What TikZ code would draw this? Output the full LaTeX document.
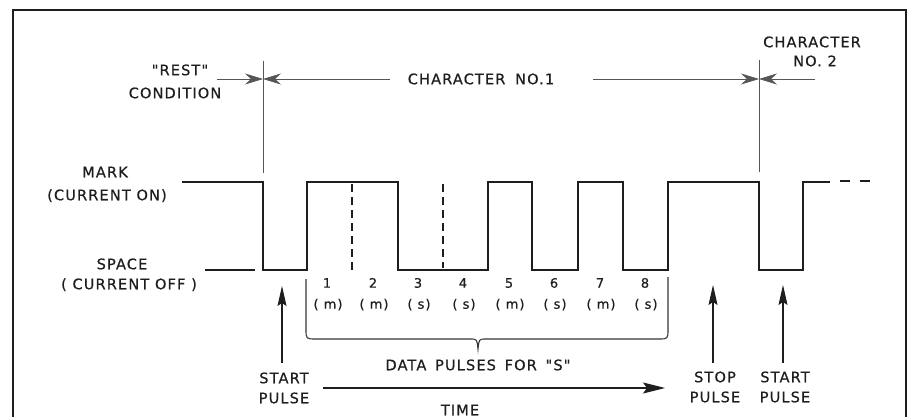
\documentclass[tikz,border=0pt]{standalone}
\usepackage{fontspec}
\newfontfamily\lblfont[LetterSpace=8,FakeBold=0.6]{DejaVu Sans}
\usetikzlibrary{arrows.meta}
\definecolor{ink}{HTML}{1E1E1E}
\begin{document}
\begin{tikzpicture}[x=1pt,y=-1pt,
  lbl/.style={font=\lblfont\fontsize{14.5}{16}\selectfont, inner sep=0pt, text height=10.5pt, text depth=0pt, text=ink},
  sml/.style={font=\lblfont\fontsize{13}{14}\selectfont, inner sep=0pt, text height=9.4pt, text depth=0pt, text=ink},
  wave/.style={line width=1.4pt, draw=ink, line join=miter},
  dim/.style={line width=0.7pt, draw=ink!75},
  dimtip/.style={-{Stealth[length=18pt,width=11pt,inset=6pt]}},
  ptr/.style={line width=1.1pt, draw=ink, -{Stealth[length=20pt,width=9pt,inset=3pt]}},
  brk/.style={line width=1.1pt, draw=ink!90},
  bitdash/.style={line width=1.9pt, draw=ink, dash pattern=on 8pt off 5pt},
  frame/.style={line width=2.4pt, draw=ink}
]
\useasboundingbox (0,0) rectangle (912,417);
\fill[white] (0,0) rectangle (912,417);
% frame
\draw[frame] (13,418) -- (13,10) -- (906,10) -- (906,418);

% waveform coordinates
\coordinate (w0) at (182,182);
\coordinate (w1) at (263,182);
\coordinate (w2) at (263,270);
\coordinate (w3) at (307,270);
\coordinate (w4) at (307,182);
\coordinate (w5) at (398,182);
\coordinate (w6) at (398,270);
\coordinate (w7) at (488,270);
\coordinate (w8) at (488,182);
\coordinate (w9) at (532,182);
\coordinate (w10) at (532,270);
\coordinate (w11) at (578,270);
\coordinate (w12) at (578,182);
\coordinate (w13) at (623,182);
\coordinate (w14) at (623,270);
\coordinate (w15) at (668,270);
\coordinate (w16) at (668,182);
\coordinate (w17) at (759,182);
\coordinate (w18) at (759,270);
\coordinate (w19) at (803,270);
\coordinate (w20) at (803,182);
\coordinate (w21) at (830,182);
\draw[wave] (w0) -- (w1) -- (w2) -- (w3) -- (w4) -- (w5) -- (w6) -- (w7) -- (w8) -- (w9)
  -- (w10) -- (w11) -- (w12) -- (w13) -- (w14) -- (w15) -- (w16) -- (w17) -- (w18)
  -- (w19) -- (w20) -- (w21);
\draw[wave, line width=1.7pt] (840,181) -- (850,181) (860,181) -- (870,181);
% space reference line
\coordinate (s0) at (205,270);
\coordinate (s1) at (255,270);
\draw[wave, line width=1.1pt] (s0) -- (s1);
% bit boundaries within same-level runs
\draw[bitdash] (352,184) -- (352,270);
\draw[bitdash] (443,184) -- (443,268);

% level labels
\node[lbl] (mark) at (105,172) {MARK};
\node[lbl] (markb) at (107,195) {(CURRENT ON)};
\node[lbl] (space) at (122,264) {SPACE};
\node[lbl] (spaceb) at (129,284) {( CURRENT OFF )};

% character boundaries
\coordinate (c1t) at (263,61);
\coordinate (c1b) at (263,173);
\coordinate (c2t) at (759,60);
\coordinate (c2b) at (759,172);
\draw[dim] (c1t) -- (c1b);
\draw[dim] (c2t) -- (c2b);
\coordinate (c1) at (263,79);
\coordinate (c2) at (759,79);
\coordinate (d0) at (217,79);
\coordinate (d1) at (390,79);
\coordinate (d2) at (593,79);
\coordinate (d3) at (815,79);
\draw[dim, dimtip] (d0) -- (c1);
\draw[dim, dimtip] (d1) -- (c1);
\draw[dim, dimtip] (d2) -- (c2);
\draw[dim, dimtip] (d3) -- (c2);
\node[lbl] (rest) at (180,70) {"REST"};
\node[lbl] (cond) at (175,93) {CONDITION};
\node[lbl] (char1) at (481,79) {CHARACTER\hspace{4pt} NO.1};
\node[lbl] (char2) at (812,42) {CHARACTER};
\node[lbl] (char2b) at (815,61) {NO. 2};

% bit labels
\foreach \i/\x/\t in {1/327/m,2/373/m,3/418/s,4/463/s,5/509/m,6/554/s,7/600/m,8/645/s}{
  \node[sml] (n\i) at (\x,283) {\i};
  \node[sml] (t\i) at (\x+1,304) {( \t )};
}
% brace
\draw[brk] (306,279) -- (306,329) .. controls (306,339) .. (316,339) -- (470,339)
  .. controls (477,339) .. (478,349) .. controls (479,339) .. (486,339) -- (658,339)
  .. controls (668,339) .. (668,329) -- (668,277);
\node[lbl] (data) at (478,365) {DATA\hspace{3pt} PULSES\hspace{3pt} FOR\hspace{3pt} "S"};

% time arrow
\coordinate (ta) at (323,388);
\coordinate (tb) at (665,388);
\draw[line width=1.1pt, draw=ink, -{Stealth[length=22pt,width=11pt,inset=4pt]}] (ta) -- (tb);
\node[lbl] (time) at (460,410) {TIME};

% pulse pointers
\node[lbl] (st1) at (284,378) {START};
\node[lbl] (st1b) at (284,398) {PULSE};
\node[lbl] (sp) at (715,377) {STOP};
\node[lbl] (spb) at (715,397) {PULSE};
\node[lbl] (st2) at (785,377) {START};
\node[lbl] (st2b) at (785,397) {PULSE};
\coordinate (p1a) at (282,363);
\coordinate (p1b) at (282,286);
\coordinate (p2a) at (713,363);
\coordinate (p2b) at (713,285);
\coordinate (p3a) at (783,363);
\coordinate (p3b) at (783,285);
\draw[ptr] (p1a) -- (p1b);
\draw[ptr] (p2a) -- (p2b);
\draw[ptr] (p3a) -- (p3b);
\end{tikzpicture}
\end{document}
